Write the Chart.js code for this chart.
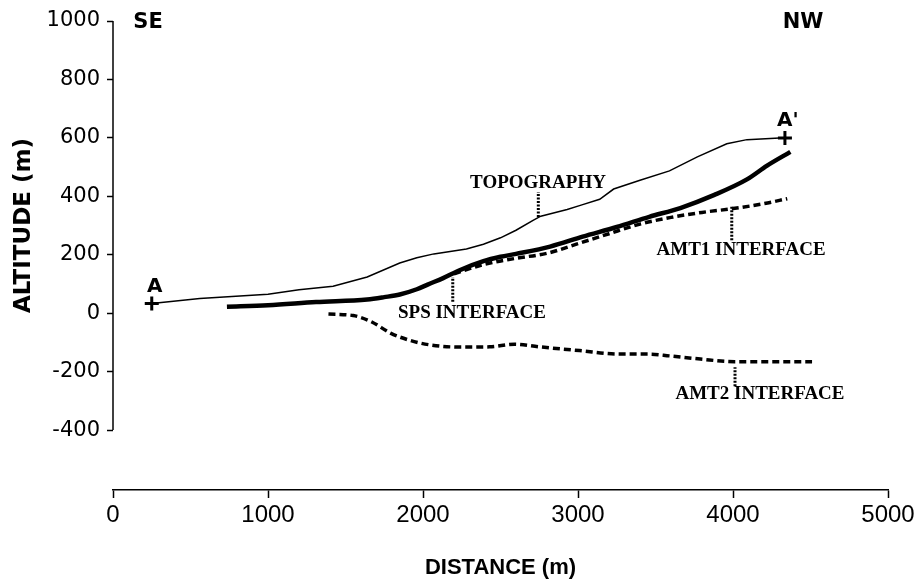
<!DOCTYPE html>
<html>
<head>
<meta charset="utf-8">
<script src="https://cdn.jsdelivr.net/npm/chart.js@4.4.0/dist/chart.umd.min.js"></script>
<style>
  html, body { margin: 0; padding: 0; background: #fff; }
  #wrap { width: 924px; height: 583px; }
</style>
</head>
<body>
<div id="wrap"><canvas id="profile"></canvas></div>
<script>
// axis ticks
const distTicks = [0, 1000, 2000, 3000, 4000, 5000];
const altTicks = [-400, -200, 0, 200, 400, 600, 800, 1000];

// topography (thin line)
const topoDist = [250, 560, 1000, 1200, 1420, 1640, 1850, 1960, 2070, 2280, 2390, 2500, 2600, 2710, 2760, 2930, 3020, 3140, 3230, 3400, 3590, 3770, 3960, 4090, 4300, 4335];
const topoAlt = [33, 50, 65, 80, 92, 124, 172, 190, 203, 220, 236, 258, 284, 318, 332, 355, 370, 390, 425, 455, 487, 535, 580, 594, 600, 600];

// SPS interface (thick line)
const spsDist = [735, 1000, 1310, 1640, 1750, 1850, 1960, 2030, 2130, 2240, 2390, 2500, 2600, 2820, 3030, 3250, 3460, 3660, 3880, 4090, 4220, 4370];
const spsAlt = [22, 27, 38, 47, 55, 64, 82, 98, 120, 148, 178, 193, 203, 228, 262, 295, 330, 360, 405, 458, 505, 552];

// AMT1 interface (dashed)
const amt1Dist = [2200, 2400, 2600, 2800, 3000, 3200, 3400, 3600, 3800, 4000, 4200, 4350];
const amt1Alt = [135, 168, 188, 205, 238, 272, 305, 328, 345, 358, 375, 392];

// AMT2 interface (dashed)
const amt2Dist = [1390, 1550, 1670, 1790, 1910, 2040, 2240, 2430, 2590, 2750, 3010, 3270, 3460, 3590, 3790, 4010, 4510];
const amt2Alt = [-3, -8, -30, -68, -92, -108, -116, -115, -106, -115, -128, -140, -140, -146, -157, -166, -166];

// profile end points A and A'
const endDist = [250, 4335];
const endAlt = [33, 600];
const endNames = ['A', "A'"];

// annotations (in data units)
const noteText = ['TOPOGRAPHY', 'SPS INTERFACE', 'AMT1 INTERFACE', 'AMT2 INTERFACE'];
const noteAt = [[2742, 444], [2316, -1], [4052, 216], [4174, -277]];
const leaderAt = [[2744, 329, 415], [2192, 39, 124], [3992, 250, 364], [4013, -250, -185]];
const sideText = ['SE', 'NW'];
const sideAt = [[226, 994], [4452, 994]];

const pts = (xs, ys) => xs.map((v, i) => ({ x: v, y: ys[i] }));

const overlay = {
    id: 'overlay',
    afterDraw(chart) {
        const { ctx } = chart;
        const x = chart.scales.x, y = chart.scales.y;
        ctx.save();
        ctx.fillStyle = '#000';
        ctx.strokeStyle = '#000';

        // y axis line only spans the tick range
        ctx.lineWidth = 1.5;
        ctx.beginPath();
        ctx.moveTo(x.left, y.getPixelForValue(altTicks[altTicks.length - 1]));
        ctx.lineTo(x.left, y.getPixelForValue(altTicks[0]));
        ctx.stroke();

        // y title, centred on the drawn axis
        const yMid = (y.getPixelForValue(altTicks[0]) + y.getPixelForValue(altTicks[altTicks.length - 1])) / 2;
        ctx.save();
        ctx.translate(24, yMid);
        ctx.rotate(-Math.PI / 2);
        ctx.font = 'bold 23px "DejaVu Sans"';
        ctx.textAlign = 'center';
        ctx.textBaseline = 'middle';
        ctx.fillText('ALTITUDE (m)', 0, 0);
        ctx.restore();

        // SE / NW
        ctx.font = 'bold 21px "DejaVu Sans"';
        ctx.textAlign = 'center';
        ctx.textBaseline = 'middle';
        sideText.forEach((t, i) => {
            ctx.fillText(t, x.getPixelForValue(sideAt[i][0]), y.getPixelForValue(sideAt[i][1]));
        });

        // A / A'
        ctx.font = 'bold 20px "DejaVu Sans"';
        endNames.forEach((t, i) => {
            ctx.fillText(t, x.getPixelForValue(endDist[i]) + 3, y.getPixelForValue(endAlt[i]) - 17);
        });

        // dotted leaders
        ctx.lineWidth = 3;
        ctx.setLineDash([2, 1.5]);
        leaderAt.forEach(l => {
            const px = x.getPixelForValue(l[0]);
            ctx.beginPath();
            ctx.moveTo(px, y.getPixelForValue(l[1]));
            ctx.lineTo(px, y.getPixelForValue(l[2]));
            ctx.stroke();
        });
        ctx.setLineDash([]);

        // labels
        ctx.font = 'bold 19px "Liberation Serif"';
        noteText.forEach((t, i) => {
            ctx.fillText(t, x.getPixelForValue(noteAt[i][0]), y.getPixelForValue(noteAt[i][1]));
        });
        ctx.restore();
    }
};

Chart.defaults.color = '#000';

new Chart(document.getElementById('profile'), {
    type: 'line',
    data: {
        datasets: [
            { label: 'Topography', data: pts(topoDist, topoAlt), borderColor: '#000', borderWidth: 1.5, pointRadius: 0 },
            { label: 'SPS interface', data: pts(spsDist, spsAlt), borderColor: '#000', borderWidth: 4.5, pointRadius: 0, cubicInterpolationMode: 'monotone' },
            { label: 'AMT1 interface', data: pts(amt1Dist, amt1Alt), borderColor: '#000', borderWidth: 3.5, borderDash: [7, 4], pointRadius: 0, cubicInterpolationMode: 'monotone' },
            { label: 'AMT2 interface', data: pts(amt2Dist, amt2Alt), borderColor: '#000', borderWidth: 3.5, borderDash: [7, 4], pointRadius: 0, cubicInterpolationMode: 'monotone' },
            {
                label: 'Ends', data: pts(endDist, endAlt), showLine: false,
                pointStyle: 'cross', pointRadius: 7, borderColor: '#000', borderWidth: 3
            }
        ]
    },
    options: {
        responsive: true,
        maintainAspectRatio: false,
        animation: false,
        layout: { padding: { top: 21, right: 36, bottom: 0, left: 0 } },
        plugins: { legend: { display: false }, tooltip: { enabled: false } },
        scales: {
            x: {
                type: 'linear',
                min: 0,
                max: 5000,
                afterBuildTicks: s => { s.ticks = distTicks.map(v => ({ value: v })); },
                afterFit: s => { s.height = 93; },
                border: { display: true, color: '#000', width: 1.5 },
                grid: { display: true, drawOnChartArea: false, drawTicks: true, tickLength: 8, tickColor: '#000', tickWidth: 1.5 },
                ticks: { font: { family: 'Liberation Sans', size: 24 }, padding: 3, maxRotation: 0, callback: v => String(v) },
                title: {
                    display: true, text: 'DISTANCE (m)',
                    font: { family: 'Liberation Sans', size: 22, weight: 'bold' },
                    padding: { top: 0, bottom: 2 }
                }
            },
            y: {
                min: -605,
                max: 1000,
                afterBuildTicks: s => { s.ticks = altTicks.map(v => ({ value: v })); },
                afterFit: s => { s.width = 113; },
                border: { display: false },
                grid: { display: true, drawOnChartArea: false, drawTicks: true, tickLength: 6, tickColor: '#000', tickWidth: 1.5 },
                ticks: { font: { family: 'DejaVu Sans', size: 21 }, padding: 7, callback: v => String(v) }
            }
        }
    },
    plugins: [overlay]
});
</script>
</body>
</html>
